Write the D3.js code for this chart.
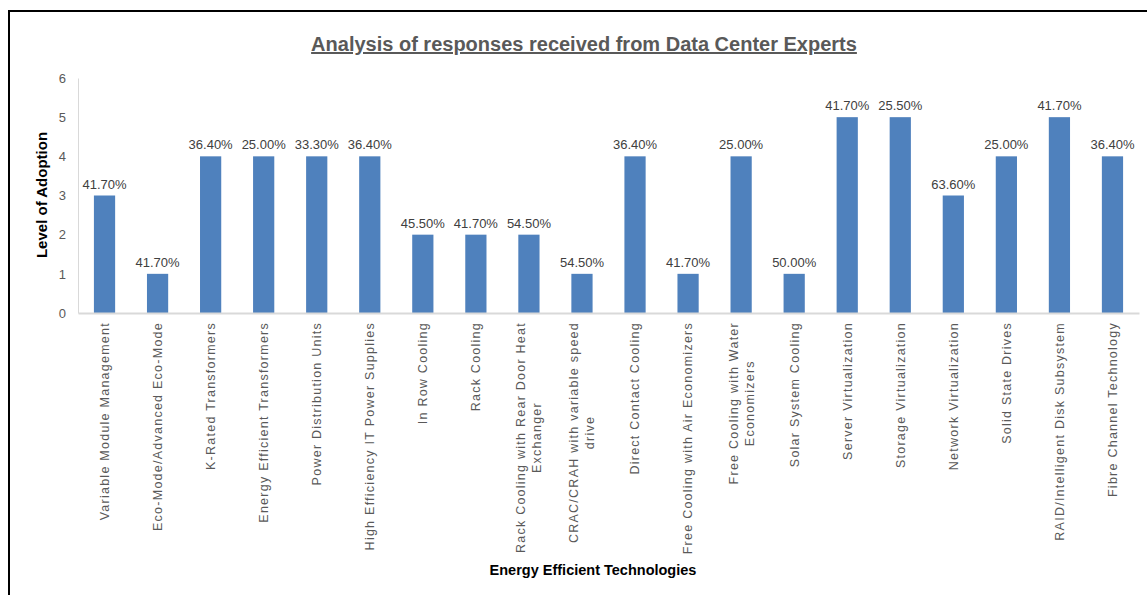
<!DOCTYPE html>
<html>
<head>
<meta charset="utf-8">
<script src="https://cdn.jsdelivr.net/npm/d3@7"></script>
<style>
  body { margin: 0; background: #fff; }
  text { font-family: "Liberation Sans", Arial, sans-serif; }
</style>
</head>
<body>
<div id="chart"></div>
<script>
// chart values
const categories = [
  "Variable Module Management",
  "Eco-Mode/Advanced Eco-Mode",
  "K-Rated Transformers",
  "Energy Efficient Transformers",
  "Power Distribution Units",
  "High Efficiency IT Power Supplies",
  "In Row Cooling",
  "Rack Cooling",
  "Rack Cooling with Rear Door Heat\nExchanger",
  "CRAC/CRAH with variable speed\ndrive",
  "Direct Contact Cooling",
  "Free Cooling with Air Economizers",
  "Free Cooling with Water\nEconomizers",
  "Solar System Cooling",
  "Server Virtualization",
  "Storage Virtualization",
  "Network Virtualization",
  "Solid State Drives",
  "RAID/Intelligent Disk Subsystem",
  "Fibre Channel Technology"
];
const adoption = [3, 1, 4, 4, 4, 4, 2, 2, 2, 1, 4, 1, 4, 1, 5, 5, 3, 4, 5, 4];
const percentLabels = ["41.70%", "41.70%", "36.40%", "25.00%", "33.30%", "36.40%", "45.50%",
  "41.70%", "54.50%", "54.50%", "36.40%", "41.70%", "25.00%", "50.00%", "41.70%", "25.50%",
  "63.60%", "25.00%", "41.70%", "36.40%"];
const yTicks = [0, 1, 2, 3, 4, 5, 6];

const width = 1147, height = 595;
const margin = {top: 78, right: 8, bottom: 282, left: 78};
const innerW = width - margin.left - margin.right,
      innerH = height - margin.top - margin.bottom;

const svg = d3.select("#chart")
  .append("svg")
    .attr("width", width)
    .attr("height", height);

// outer frame (cut off at right and bottom like the screenshot)
svg.append("path")
  .attr("d", `M9,${height} L9,11 L${width},11`)
  .attr("fill", "none")
  .attr("stroke", "#000")
  .attr("stroke-width", 2);

// title
svg.append("text")
  .attr("x", 584)
  .attr("y", 51)
  .attr("text-anchor", "middle")
  .style("font-size", "20px")
  .style("font-weight", "bold")
  .style("text-decoration", "underline")
  .attr("fill", "#595959")
  .text("Analysis of responses received from Data Center Experts");

const g = svg.append("g")
  .attr("transform", `translate(${margin.left}, ${margin.top})`);

const x = d3.scaleBand()
  .domain(d3.range(categories.length))
  .range([0, innerW])
  .paddingInner(0.6)
  .paddingOuter(0.3);

const y = d3.scaleLinear()
  .domain([0, 6])
  .range([innerH, 0]);

// Y axis
const yAxis = g.append("g")
  .call(d3.axisLeft(y).tickValues(yTicks).tickSize(0).tickPadding(12).tickFormat(d3.format("d")));
yAxis.select(".domain").attr("stroke", "#d9d9d9");
yAxis.selectAll("text")
  .attr("fill", "#595959")
  .style("font-size", "13px")
  .style("font-family", "Liberation Sans, Arial, sans-serif");

// bars
g.append("g")
  .selectAll("rect")
  .data(adoption)
  .enter()
  .append("rect")
    .attr("x", (d, i) => x(i))
    .attr("y", d => y(d))
    .attr("width", x.bandwidth())
    .attr("height", d => innerH - y(d))
    .attr("fill", "#4f81bd");

// value labels
g.append("g")
  .selectAll("text")
  .data(adoption)
  .enter()
  .append("text")
    .attr("x", (d, i) => x(i) + x.bandwidth() / 2)
    .attr("y", d => y(d) - 7)
    .attr("text-anchor", "middle")
    .attr("fill", "#404040")
    .style("font-size", "13px")
    .text((d, i) => percentLabels[i]);

// X axis baseline
const xAxis = g.append("g")
  .attr("transform", `translate(0, ${innerH})`)
  .call(d3.axisBottom(x).tickSize(0).tickFormat(""));
xAxis.select(".domain").attr("stroke", "#d9d9d9").attr("stroke-width", 2);

// rotated category labels
const labelTop = innerH + 9;
const lineGap = 16;
categories.forEach((c, i) => {
  const lines = c.split("\n");
  const cx = x(i) + x.bandwidth() / 2;
  const lg = g.append("g")
    .attr("transform", `translate(${cx}, ${labelTop}) rotate(-90)`);
  const texts = lines.map((ln, k) => lg.append("text")
    .attr("y", (k - (lines.length - 1) / 2) * lineGap)
    .attr("dy", "0.35em")
    .attr("fill", "#595959")
    .style("font-size", "12.5px")
    .style("letter-spacing", "1.25px")
    .text(ln));
  if (lines.length === 1) {
    texts[0].attr("text-anchor", "end").attr("x", 0);
  } else {
    const maxLen = d3.max(texts, t => t.node().getComputedTextLength());
    texts.forEach(t => t.attr("text-anchor", "middle").attr("x", -maxLen / 2));
  }
});

// axis titles
svg.append("text")
  .attr("transform", "translate(47, 195) rotate(-90)")
  .attr("text-anchor", "middle")
  .style("font-size", "15px")
  .style("font-weight", "bold")
  .attr("fill", "#000")
  .text("Level of Adoption");

svg.append("text")
  .attr("x", 593)
  .attr("y", 575)
  .attr("text-anchor", "middle")
  .style("font-size", "14.5px")
  .style("font-weight", "bold")
  .attr("fill", "#000")
  .text("Energy Efficient Technologies");
</script>
</body>
</html>
